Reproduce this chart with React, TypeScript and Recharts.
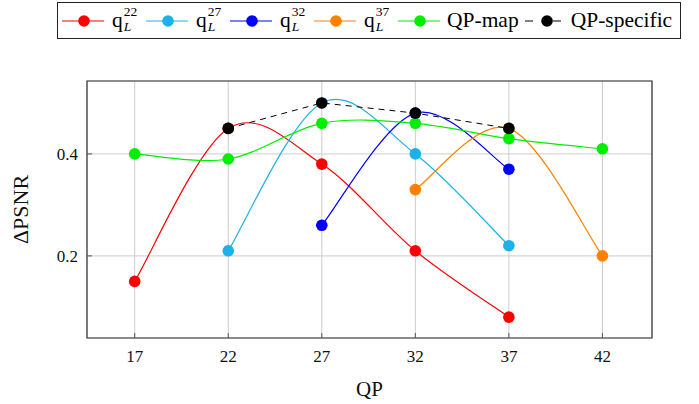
import { LineChart, Line, XAxis, YAxis, CartesianGrid, ReferenceArea } from "recharts";

const qpValues = [17, 22, 27, 32, 37, 42];
const q22 = [0.15, 0.45, 0.38, 0.21, 0.08, null];
const q27 = [null, 0.21, 0.5, 0.4, 0.22, null];
const q32 = [null, null, 0.26, 0.48, 0.37, null];
const q37 = [null, null, null, 0.33, 0.45, 0.2];
const qpMap = [0.4, 0.39, 0.46, 0.46, 0.43, 0.41];
const qpSpecific = [null, 0.45, 0.5, 0.48, 0.45, null];
const yTicks = [0.2, 0.4];

const data = qpValues.map((qp, i) => ({
  qp,
  q22: q22[i],
  q27: q27[i],
  q32: q32[i],
  q37: q37[i],
  qpMap: qpMap[i],
  qpSpecific: qpSpecific[i],
}));

const X_DOMAIN = [14.45, 44.65];
const Y_DOMAIN = [0.039, 0.543];
const FONT = "'Liberation Serif', 'DejaVu Serif', serif";
const TICK = "#555";

// catmull-rom style smoothing, close to pgfplots "smooth"
const smoothCurve = (context: any) => {
  let xs: number[] = [];
  let ys: number[] = [];
  return {
    areaStart() {},
    areaEnd() {},
    lineStart() {
      xs = [];
      ys = [];
    },
    lineEnd() {
      const n = xs.length;
      if (!n) return;
      context.moveTo(xs[0], ys[0]);
      for (let i = 0; i < n - 1; i++) {
        const a = Math.max(i - 1, 0);
        const d = Math.min(i + 2, n - 1);
        context.bezierCurveTo(
          xs[i] + (xs[i + 1] - xs[a]) / 6,
          ys[i] + (ys[i + 1] - ys[a]) / 6,
          xs[i + 1] - (xs[d] - xs[i]) / 6,
          ys[i + 1] - (ys[d] - ys[i]) / 6,
          xs[i + 1],
          ys[i + 1]
        );
      }
    },
    point(x: number, y: number) {
      xs.push(+x);
      ys.push(+y);
    },
  };
};

const series = [
  { key: "q22", color: "#ff0000", sup: "22" },
  { key: "q27", color: "#1cb1e9", sup: "27" },
  { key: "q32", color: "#0000ff", sup: "32" },
  { key: "q37", color: "#ff8000", sup: "37" },
  { key: "qpMap", color: "#00ee00", label: "QP-map" },
];

const noTick = () => <g />;

function QLabel({ sup }: { sup: string }) {
  return (
    <span style={{ display: "inline-flex", alignItems: "center", width: 30 }}>
      <span>q</span>
      <span
        style={{
          display: "inline-flex",
          flexDirection: "column",
          fontSize: 13.5,
          lineHeight: "15.5px",
          marginLeft: 1,
          marginTop: -3,
        }}
      >
        <span>{sup}</span>
        <span style={{ fontStyle: "italic" }}>L</span>
      </span>
    </span>
  );
}

function LegendBox() {
  return (
    <div
      style={{
        position: "absolute",
        left: 57,
        top: 2,
        width: 624,
        height: 37,
        border: "1px solid #222",
        display: "flex",
        alignItems: "center",
        paddingLeft: 4,
        boxSizing: "border-box",
        fontFamily: FONT,
        fontSize: 21.5,
        color: "#000",
        whiteSpace: "nowrap",
      }}
    >
      {series.map((s) => (
        <span key={s.key} style={{ display: "inline-flex", alignItems: "center", marginRight: s.sup ? 4 : 6 }}>
          <svg width={42} height={20}>
            <line x1={0} y1={10} x2={42} y2={10} stroke={s.color} strokeWidth={1.2} />
            <circle cx={22} cy={10} r={5.8} fill={s.color} />
          </svg>
          <span style={{ marginLeft: s.sup ? 8 : 7 }}>{s.sup ? <QLabel sup={s.sup} /> : s.label}</span>
        </span>
      ))}
      <span style={{ display: "inline-flex", alignItems: "center" }}>
        <svg width={36} height={20}>
          <line x1={0} y1={10} x2={8} y2={10} stroke="#000" strokeWidth={1} />
          <circle cx={22} cy={10} r={5.8} fill="#000" />
          <line x1={28} y1={10} x2={36} y2={10} stroke="#000" strokeWidth={1} />
        </svg>
        <span style={{ marginLeft: 10 }}>QP-specific</span>
      </span>
    </div>
  );
}

export default function App() {
  return (
    <div style={{ position: "absolute", left: 0, top: 0, width: 699, height: 404, background: "#fff" }}>
      <LegendBox />
      <LineChart
        width={699}
        height={404}
        data={data}
        margin={{ top: 80, right: 46, bottom: 36, left: 47 }}
      >
        <CartesianGrid stroke="#cccccc" strokeWidth={1} />
        <XAxis
          type="number"
          dataKey="qp"
          domain={X_DOMAIN}
          ticks={qpValues}
          tickSize={-5}
          tickMargin={17}
          tickLine={{ stroke: TICK }}
          axisLine={false}
          height={30}
          tick={{ fill: "#111", fontSize: 17, fontFamily: FONT }}
          label={{ value: "QP", position: "insideBottom", offset: -28, fill: "#111", fontSize: 21, fontFamily: FONT }}
        />
        <XAxis
          xAxisId="top"
          orientation="top"
          type="number"
          domain={X_DOMAIN}
          ticks={qpValues}
          height={1}
          tickSize={-5}
          tickLine={{ stroke: TICK }}
          tick={noTick}
          axisLine={false}
        />
        <YAxis
          type="number"
          domain={Y_DOMAIN}
          ticks={yTicks}
          tickSize={-5}
          tickMargin={14}
          tickLine={{ stroke: TICK }}
          width={40}
          axisLine={false}
          tickFormatter={(v: number) => v.toFixed(1)}
          tick={{ fill: "#111", fontSize: 17, fontFamily: FONT }}
          label={{ value: "ΔPSNR", angle: -90, position: "insideLeft", offset: -27, fill: "#111", fontSize: 22, fontFamily: FONT, style: { textAnchor: "middle" } }}
        />
        <YAxis
          yAxisId="right"
          orientation="right"
          type="number"
          domain={Y_DOMAIN}
          ticks={yTicks}
          width={1}
          tickSize={-5}
          tickLine={{ stroke: TICK }}
          tick={noTick}
          axisLine={false}
        />
        <ReferenceArea
          x1={X_DOMAIN[0]}
          x2={X_DOMAIN[1]}
          y1={Y_DOMAIN[0]}
          y2={Y_DOMAIN[1]}
          fill="none"
          fillOpacity={0}
          stroke="#333"
          strokeWidth={1.2}
        />
        {series.map((s) => (
          <Line
            key={s.key}
            dataKey={s.key}
            type={smoothCurve as any}
            stroke={s.color}
            strokeWidth={1.2}
            dot={{ r: 5.8, fill: s.color, stroke: s.color, strokeWidth: 0 }}
            activeDot={false}
            isAnimationActive={false}
          />
        ))}
        <Line
          dataKey="qpSpecific"
          type="linear"
          stroke="#000"
          strokeWidth={1}
          strokeDasharray="6 5"
          dot={{ r: 5.8, fill: "#000", stroke: "#000", strokeWidth: 0 }}
          activeDot={false}
          isAnimationActive={false}
        />
      </LineChart>
    </div>
  );
}
